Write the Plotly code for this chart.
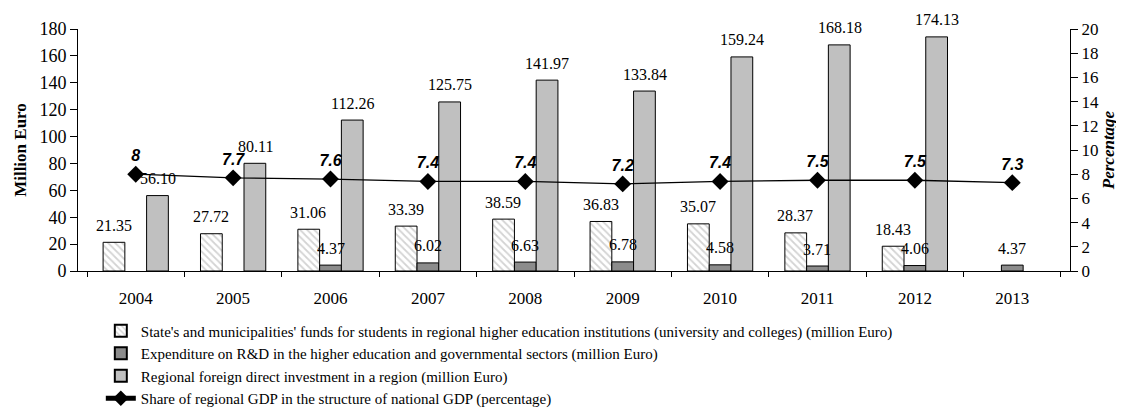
import plotly.graph_objects as go

years = ["2004", "2005", "2006", "2007", "2008", "2009", "2010", "2011", "2012", "2013"]
state_funds = [21.35, 27.72, 31.06, 33.39, 38.59, 36.83, 35.07, 28.37, 18.43, None]
rd_expenditure = [None, None, 4.37, 6.02, 6.63, 6.78, 4.58, 3.71, 4.06, 4.37]
fdi = [56.10, 80.11, 112.26, 125.75, 141.97, 133.84, 159.24, 168.18, 174.13, None]
gdp_share = [8, 7.7, 7.6, 7.4, 7.4, 7.2, 7.4, 7.5, 7.5, 7.3]

names = [
    "State's and municipalities' funds for students in regional higher education institutions (university and colleges) (million Euro)",
    "Expenditure on R&D in the higher education and governmental sectors (million Euro)",
    "Regional foreign direct investment in a region (million Euro)",
    "Share of regional GDP in the structure of national GDP (percentage)",
]

SERIF = "Liberation Serif, Times New Roman, serif"
lab_font = dict(family=SERIF, size=16, color="black")

W, H = 1124, 418
ML, MR, MT, MB = 70, 62, 21, 147
BARGAP = 0.33
plot_w = W - ML - MR
bar_px = plot_w / len(years) * (1 - BARGAP) / 3

fig = go.Figure()
fig.add_trace(go.Bar(
    x=years, y=state_funds, name=names[0],
    marker=dict(color="white", line=dict(color="black", width=1),
                pattern=dict(shape="\\", fgcolor="#a8a8a8", bgcolor="white", size=5, solidity=0.35)),
))
fig.add_trace(go.Bar(
    x=years, y=rd_expenditure, name=names[1],
    marker=dict(color="#8c8c8c", line=dict(color="black", width=1)),
))
fig.add_trace(go.Bar(
    x=years, y=fdi, name=names[2],
    marker=dict(color="#c0c0c0", line=dict(color="black", width=1)),
))
fig.add_trace(go.Scatter(
    x=years, y=gdp_share, name=names[3], yaxis="y2",
    mode="lines+markers+text",
    line=dict(color="black", width=1.3),
    marker=dict(symbol="diamond", size=13, color="black"),
    text=[f"{v:g}" for v in gdp_share], textposition="top center",
    textfont=dict(family="Liberation Sans, Arial, sans-serif", size=16, color="black",
                  weight="bold", style="italic"),
    cliponaxis=False,
))

# value labels above each bar (x given as category index)
for k, series in zip((-1, 0, 1), (state_funds, rd_expenditure, fdi)):
    for i, v in enumerate(series):
        if v is None:
            continue
        fig.add_annotation(
            x=i, y=v, xref="x", yref="y", text=f"{v:.2f}", showarrow=False,
            xanchor="center", yanchor="middle", xshift=k * bar_px, yshift=17,
            font=lab_font,
        )

fig.update_layout(
    width=W, height=H,
    margin=dict(l=ML, r=MR, t=MT, b=MB),
    plot_bgcolor="white", paper_bgcolor="white",
    barmode="group", bargap=BARGAP, bargroupgap=0,
    font=dict(family=SERIF, size=16, color="black"),
    xaxis=dict(
        type="category", categoryorder="array", categoryarray=years,
        showline=True, linecolor="black", linewidth=1,
        ticks="outside", ticklen=5, tickcolor="black", tickson="boundaries",
        showgrid=False, tickfont=dict(family=SERIF, size=17), ticklabelstandoff=12,
    ),
    yaxis=dict(
        range=[0, 180], dtick=20, showline=True, linecolor="black", linewidth=1,
        ticks="outside", ticklen=7, tickcolor="black", showgrid=False, zeroline=False,
        tickfont=dict(family=SERIF, size=18),
        title=dict(text="<b>Million Euro</b>", font=dict(family=SERIF, size=17), standoff=8),
    ),
    yaxis2=dict(
        range=[0, 20], dtick=2, overlaying="y", side="right",
        showline=True, linecolor="black", linewidth=1,
        ticks="outside", ticklen=7, tickcolor="black", showgrid=False, zeroline=False,
        tickfont=dict(family=SERIF, size=17),
        title=dict(text="<b><i>Percentage</i></b>", font=dict(family=SERIF, size=17), standoff=2),
    ),
    legend=dict(
        x=0.023, y=-0.18, xanchor="left", yanchor="top",
        traceorder="normal", orientation="v",
        font=dict(family=SERIF, size=15), tracegroupgap=0,
        itemsizing="constant", bgcolor="rgba(0,0,0,0)",
    ),
)

fig.write_html("out.html")
